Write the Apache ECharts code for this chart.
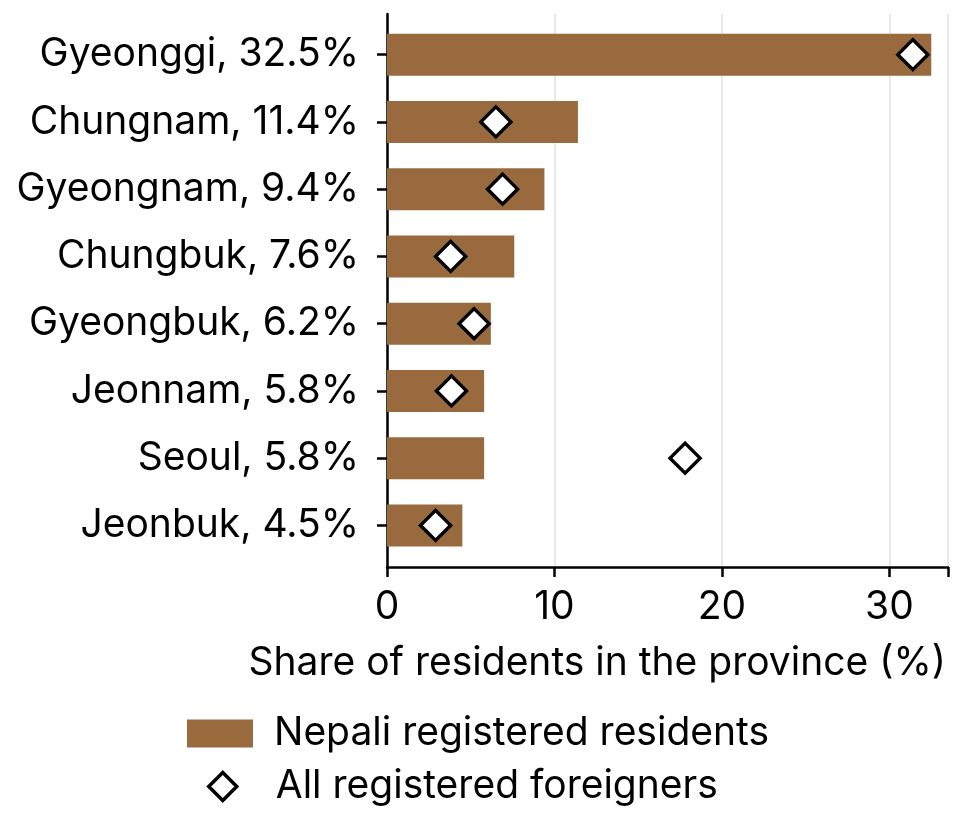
<!DOCTYPE html>
<html>
<head>
<meta charset="UTF-8">
<title>Nepali registered residents by province</title>
<style>
  html, body { margin: 0; padding: 0; background: #fff; }
  #main { width: 962px; height: 819px; }
</style>
</head>
<body>
<div id="main"></div>
<script src="https://cdn.jsdelivr.net/npm/echarts@6/dist/echarts.min.js"></script>
<script type="text/javascript">
// provinces, top to bottom
var provinces = ['Gyeonggi', 'Chungnam', 'Gyeongnam', 'Chungbuk', 'Gyeongbuk', 'Jeonnam', 'Seoul', 'Jeonbuk'];
// share of Nepali registered residents living in the province (%)
var nepaliShare = [32.5, 11.4, 9.4, 7.6, 6.2, 5.8, 5.8, 4.5];
// share of all registered foreigners living in the province (%)
var foreignShare = [31.4, 6.5, 6.9, 3.8, 5.2, 3.85, 17.8, 2.9];
var xTicks = [0, 10, 20, 30];

var catLabels = provinces.map(function (p, i) {
    return p + ', ' + nepaliShare[i].toFixed(1) + '%';
});

var FONT = 'Inter';
var FS = 39;
var brown = '#986a3e';

var myChart = echarts.init(document.getElementById('main'));

myChart.setOption({
    animation: false,
    textStyle: { fontFamily: FONT, color: '#000' },
    title: {
        text: 'Share of residents in the province (%)',
        right: 16,
        top: 644,
        padding: 0,
        textStyle: { fontFamily: FONT, fontSize: FS, fontWeight: 'normal', color: '#000' }
    },
    grid: [
        // axes frame (spines, gridlines, x ticks)
        { left: 387, right: 14, top: 14, bottom: 252 },
        // bars and markers
        { left: 387, right: 14, top: 21, bottom: 260 }
    ],
    xAxis: [
        {
            gridIndex: 0,
            type: 'value',
            min: 0,
            max: 33.5,
            interval: 10,
            axisLine: { lineStyle: { color: '#000', width: 2.5 } },
            axisTick: { show: true, length: 10, lineStyle: { color: '#000', width: 2.5 } },
            axisLabel: {
                fontSize: FS, color: '#000', fontFamily: FONT, margin: 21,
                formatter: function (v) { return xTicks.indexOf(v) >= 0 ? String(v) : ''; }
            },
            splitLine: { show: true, lineStyle: { color: '#e8e8e8', width: 2 } }
        },
        {
            gridIndex: 1,
            type: 'value',
            min: 0,
            max: 33.5,
            show: false
        }
    ],
    yAxis: [
        {
            gridIndex: 0,
            type: 'value',
            min: 0,
            max: 1,
            axisLine: { show: true, lineStyle: { color: '#000', width: 2.5 } },
            axisTick: { show: false },
            axisLabel: { show: false },
            splitLine: { show: false }
        },
        {
            gridIndex: 1,
            type: 'category',
            inverse: true,
            data: catLabels,
            axisLine: { show: false },
            axisTick: { show: true, alignWithLabel: true, length: 10, lineStyle: { color: '#000', width: 2.5 } },
            axisLabel: { fontSize: FS, color: '#000', fontFamily: FONT, margin: 28 },
            splitLine: { show: false }
        }
    ],
    legend: [
        {
            data: ['Nepali registered residents'],
            orient: 'vertical',
            left: 187,
            top: 714,
            padding: 0,
            itemWidth: 66,
            itemHeight: 28,
            icon: 'rect',
            textStyle: { fontSize: FS, color: '#000', fontFamily: FONT, padding: [0, 0, 0, 16] }
        },
        {
            data: ['All registered foreigners'],
            orient: 'vertical',
            left: 207,
            top: 767,
            padding: 0,
            itemWidth: 28,
            itemHeight: 28,
            itemStyle: { color: '#fff', borderColor: '#000', borderWidth: 3.5 },
            textStyle: { fontSize: FS, color: '#000', fontFamily: FONT, padding: [0, 0, 0, 34] }
        }
    ],
    series: [
        {
            name: 'Nepali registered residents',
            type: 'bar',
            xAxisIndex: 1,
            yAxisIndex: 1,
            barWidth: 42,
            itemStyle: { color: brown },
            data: nepaliShare
        },
        {
            name: 'All registered foreigners',
            type: 'scatter',
            xAxisIndex: 1,
            yAxisIndex: 1,
            symbol: 'diamond',
            symbolSize: 30,
            itemStyle: { color: '#fff', borderColor: '#000', borderWidth: 3.5, opacity: 1 },
            z: 5,
            data: foreignShare
        }
    ]
});
</script>
</body>
</html>
